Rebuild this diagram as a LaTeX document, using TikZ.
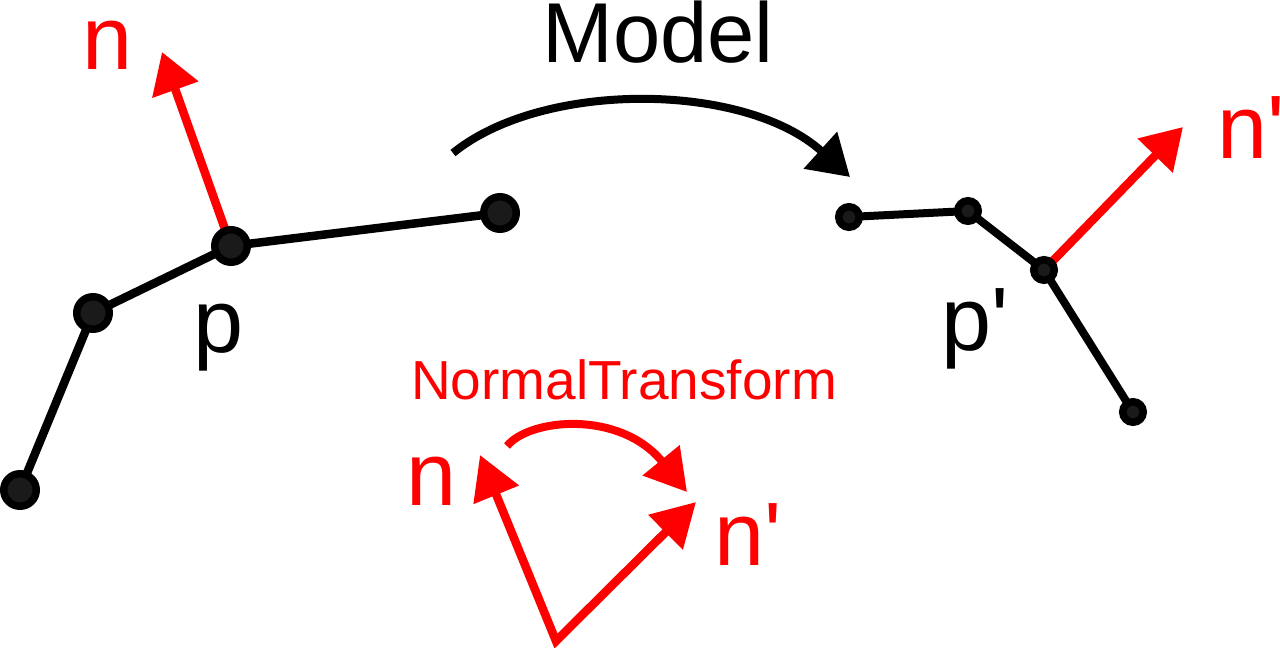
\documentclass[tikz,border=0pt]{standalone}
\usepackage{fontspec}
\setmainfont{Liberation Sans}[Ligatures=TeXOff]
\usetikzlibrary{arrows.meta,backgrounds}
\definecolor{nred}{HTML}{FF0000}
\definecolor{dotgray}{HTML}{1A1A1A}
\begin{document}
\begin{tikzpicture}[x=1pt,y=-1pt,
  bigdot/.style={circle,draw=black,fill=dotgray,line width=7.5pt,minimum size=32.5pt,inner sep=0pt},
  smalldot/.style={circle,draw=black,fill=dotgray,line width=7.5pt,minimum size=20.5pt,inner sep=0pt},
  seg/.style={line width=8.5pt,draw=black},
  rseg/.style={line width=8pt,draw=black},
  redarrow/.style={draw=nred,line width=8.5pt,-{Triangle[length=40pt,width=47pt]}},
  blackarrow/.style={draw=black,line width=8pt,-{Triangle[length=40pt,width=48pt]}},
  lbl/.style={inner sep=0pt,anchor=base west,font=\fontsize{90}{90}\selectfont},
  redlbl/.style={lbl,text=nred},
  title/.style={inner sep=0pt,anchor=base west,font=\fontsize{85}{85}\selectfont},
  sublbl/.style={inner sep=0pt,anchor=base west,text=nred,font=\fontsize{55}{55}\selectfont}]
\useasboundingbox (0,0) rectangle (1280,648);

% left polyline
\node[bigdot] (a1) at (20,490) {};
\node[bigdot] (a2) at (93,313) {};
\node[bigdot] (p) at (231,246) {};
\node[bigdot] (a4) at (500,213) {};
\coordinate (ntip) at (162,52);

% right polyline
\node[smalldot] (b1) at (849,217) {};
\node[smalldot] (b2) at (968,211) {};
\node[smalldot] (pp) at (1044,270) {};
\node[smalldot] (b4) at (1133,412) {};
\coordinate (nptip) at (1183,127);

\begin{scope}[on background layer]
  \draw[seg] (a1.center) -- (a2.center) -- (p.center) -- (a4.center);
  \draw[redarrow] (p.center) -- (ntip);
  \draw[rseg] (b1.center) -- (b2.center) -- (pp.center) -- (b4.center);
  \draw[redarrow] (pp.center) -- (nptip);
\end{scope}

% model arrow
\coordinate (ms) at (453,153);
\coordinate (me) at (850,177);
\draw[blackarrow] (ms) .. controls (543,80) and (745,82) .. (me);

% labels
\node[redlbl] (nl) at (82,69) {n};
\node[lbl] (pl) at (193,352) {p};
\node[lbl] (ppl) at (941,350) {p'};
\node[redlbl] (npl) at (1217,158) {n'};
\node[title] (model) at (542,62) {Model};
\node[sublbl] (nt) at (411,399) {NormalTransform};

% normal transform inset
\coordinate (o) at (556,641);
\coordinate (t1) at (480,455);
\coordinate (t2) at (696,502);
\draw[draw=nred,line width=8.5pt,line join=miter,{Triangle[length=43pt,width=47pt]}-{Triangle[length=43pt,width=47pt]}] (t1) -- (o) -- (t2);
\coordinate (cs) at (507,446);
\coordinate (ce) at (687,492);
\draw[draw=nred,line width=8pt,-{Triangle[length=41pt,width=46pt]}] (cs) .. controls (530,418) and (620,410) .. (ce);
\node[redlbl] (n2) at (406,505) {n};
\node[redlbl] (np2) at (714,565) {n'};
\end{tikzpicture}
\end{document}
